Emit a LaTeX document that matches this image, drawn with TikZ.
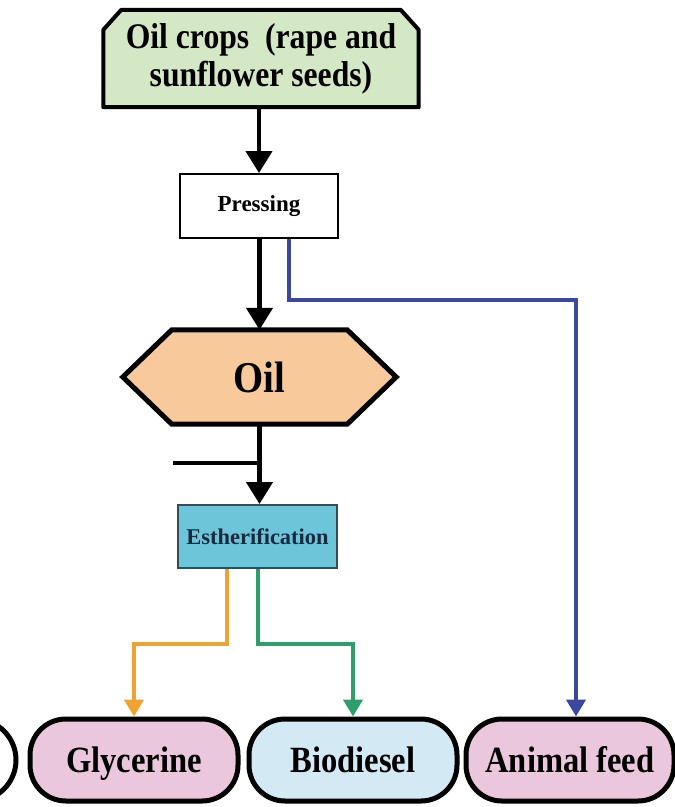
\documentclass[tikz,border=0pt]{standalone}
\usepackage{fontspec}
\setmainfont{Liberation Serif}
\newfontfamily\narrowserif{Liberation Serif}[FakeStretch=0.88]
\usetikzlibrary{arrows.meta,calc,backgrounds}

\definecolor{cropgreen}{HTML}{D5E8C6}
\definecolor{oilpeach}{HTML}{F8C99B}
\definecolor{estblue}{HTML}{6DC5DA}
\definecolor{estedge}{HTML}{3A4A55}
\definecolor{esttext}{HTML}{1A2A40}
\definecolor{prodpink}{HTML}{EBC7DE}
\definecolor{prodblue}{HTML}{D3EAF4}
\definecolor{feedblue}{HTML}{3A48A0}
\definecolor{glyorange}{HTML}{F0A232}
\definecolor{biogreen}{HTML}{2E9E6B}

\tikzset{
  flow/.style={line width=4.5pt, -{Triangle[length=22pt,width=26pt]}},
  branch/.style={line width=4.5pt, -{Triangle[length=17pt,width=19pt]}},
  stepbox/.style={draw, line width=2pt, inner sep=0pt,
    minimum width=158pt, minimum height=64pt},
  product/.style={draw, line width=5pt, rounded corners=36pt, inner sep=0pt,
    minimum width=208pt, minimum height=82pt, text height=28pt, text depth=4pt,
    font=\narrowserif\bfseries\fontsize{37}{40}\selectfont},
}

\begin{document}
\begin{tikzpicture}[x=1pt, y=-1pt]
\useasboundingbox (0,0) rectangle (675,807);

% feedstock box with chamfered top corners
\node[inner sep=0pt, minimum width=315pt, minimum height=97pt, align=center,
      font=\narrowserif\bfseries\fontsize{36}{38}\selectfont]
  (crops) at (261,58.5) {Oil crops \ (rape and\\sunflower seeds)};
\begin{scope}[on background layer]
  \draw[line width=4pt, fill=cropgreen, line join=round]
    (crops.south west) -- ($(crops.north west)+(0,20)$)
    -- ($(crops.north west)+(18,0)$) -- ($(crops.north east)+(-18,0)$)
    -- ($(crops.north east)+(0,20)$) -- (crops.south east) -- cycle;
\end{scope}

% pressing step
\node[stepbox, fill=white, font=\bfseries\fontsize{23}{26}\selectfont]
  (press) at (259,206) {Pressing};

% oil hexagon
\node[inner sep=0pt, minimum width=175pt, minimum height=94pt,
      font=\narrowserif\bfseries\fontsize{44}{48}\selectfont]
  (oil) at (259.5,377) {Oil};
\begin{scope}[on background layer]
  \draw[line width=5pt, fill=oilpeach, line join=miter]
    (oil.north west) -- (oil.north east) -- ($(oil.east)+(49,0)$)
    -- (oil.south east) -- (oil.south west) -- ($(oil.west)+(-49,0)$) -- cycle;
\end{scope}

% transesterification step
\node[stepbox, draw=estedge, fill=estblue, text=esttext,
      minimum width=159pt, minimum height=63pt,
      font=\bfseries\fontsize{22.5}{25}\selectfont]
  (est) at (257.5,536.5) {Estherification};

% products
\node[product, fill=prodpink] (gly)  at (134,760) {Glycerine};
\node[product, fill=prodblue] (bio)  at (353,760) {Biodiesel};
\node[product, fill=prodpink] (feed) at (570,760) {Animal feed};
\begin{scope}
  \clip (0,0) rectangle (675,807);
  \node[product, fill=white, rounded corners=41pt] (prev) at (-88,760) {};
\end{scope}

% main line
\draw[flow] (crops.south -| press.north) -- (press.north);
\draw[flow] (press.south -| oil.north) -- (oil.north);
\coordinate (side) at (173,463);
\draw[line width=4.5pt] (side) -- (side -| oil.south);
\draw[flow] (oil.south) -- (oil.south |- est.north);

% by-products and outputs
\draw[branch, draw=feedblue, color=feedblue]
  (press.south -| 289,0) -- (289,300) -| (feed.north -| 576,0);
\draw[branch, draw=glyorange, color=glyorange]
  (est.south -| 227,0) -- (227,644) -| (gly.north);
\draw[branch, draw=biogreen, color=biogreen]
  (est.south -| 258,0) -- (258,644) -| (bio.north);
\end{tikzpicture}
\end{document}
